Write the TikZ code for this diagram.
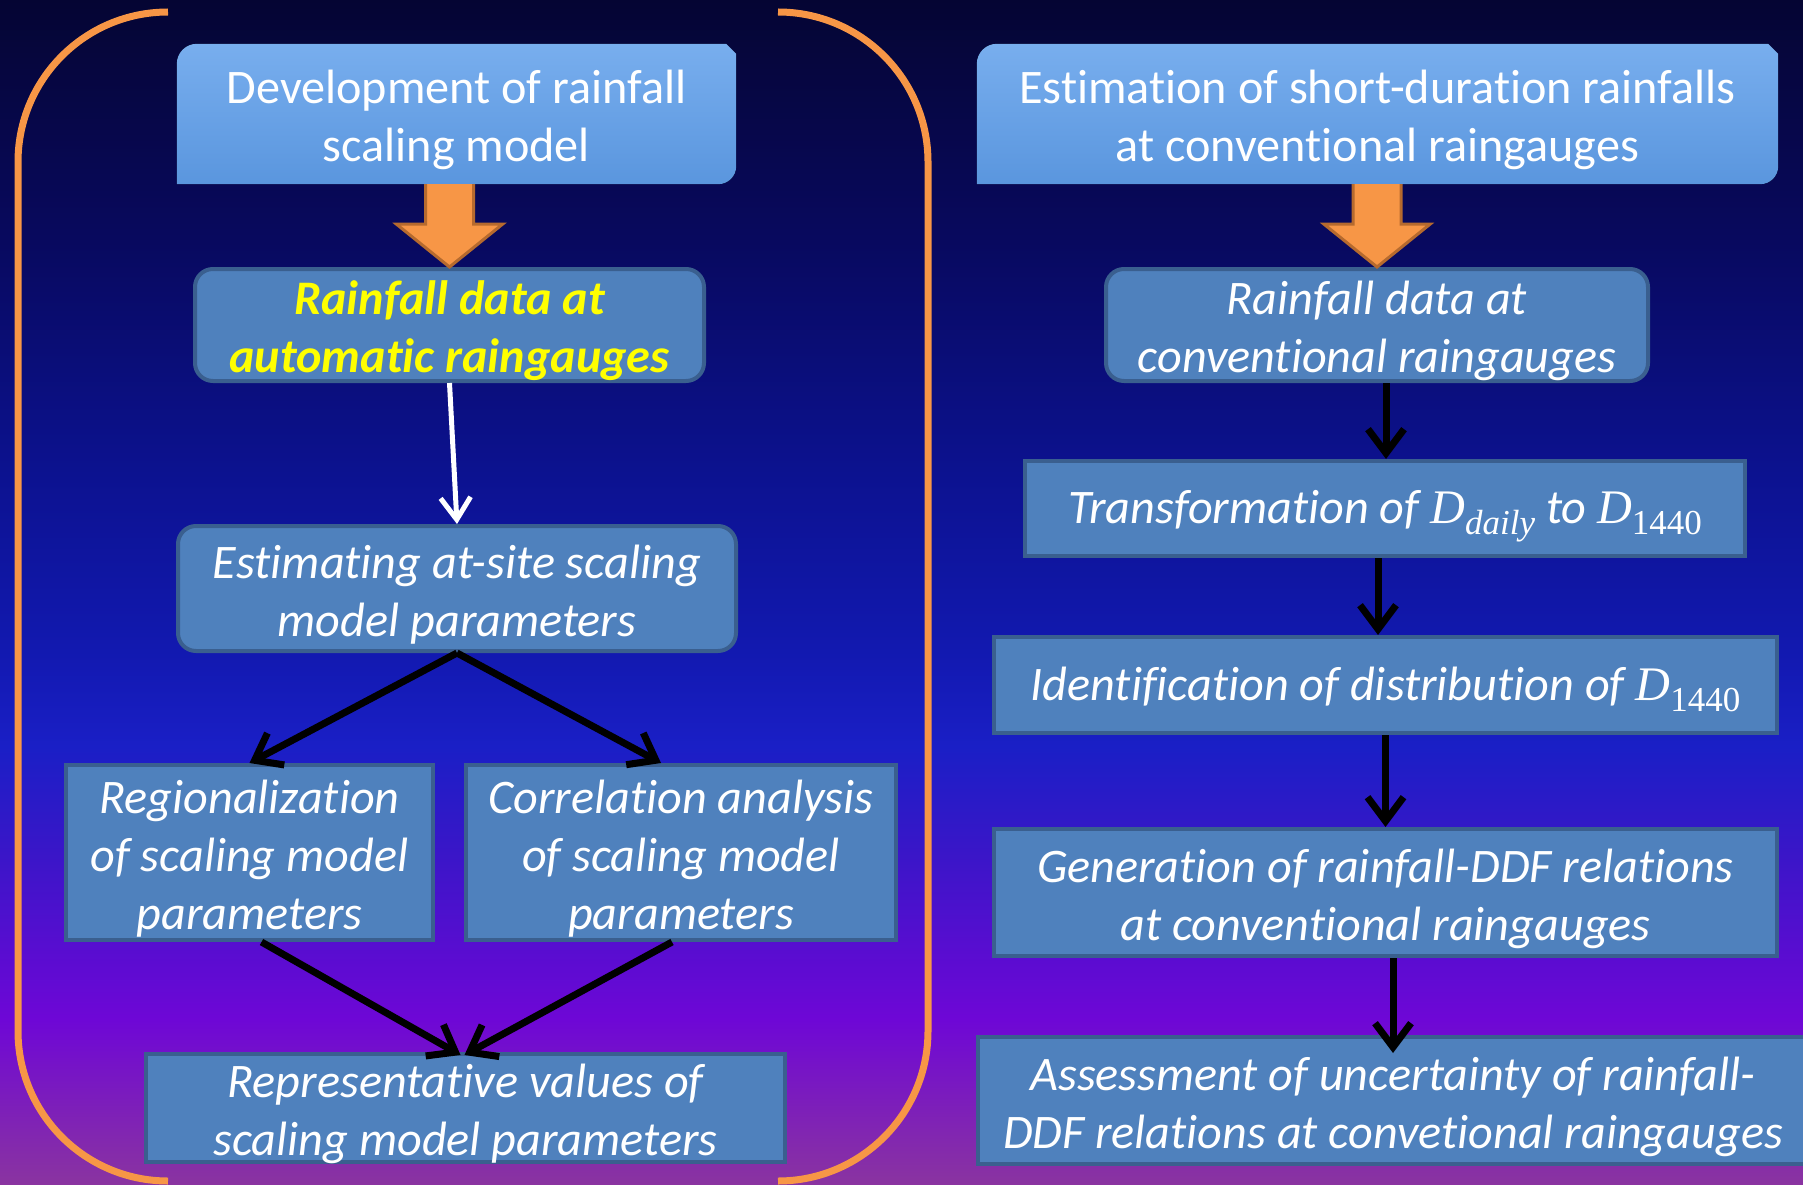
\documentclass[tikz,border=0pt]{standalone}
\usepackage{fontspec}
\setmainfont{Carlito}[Ligatures=NoCommon]
\newfontfamily\mfont{Liberation Serif}
\usetikzlibrary{arrows.meta,calc}
\pgfdeclarelayer{bglayer}
\pgfdeclarelayer{shapelayer}
\pgfsetlayers{bglayer,shapelayer,main}
\definecolor{bgA}{HTML}{050533}
\definecolor{bgB}{HTML}{08095E}
\definecolor{bgC}{HTML}{0C1290}
\definecolor{bgD}{HTML}{1219B0}
\definecolor{bgE}{HTML}{1A1FC6}
\definecolor{bgF}{HTML}{3A16C8}
\definecolor{bgG}{HTML}{6E07D6}
\definecolor{bgH}{HTML}{8A34A0}
\definecolor{boxfill}{HTML}{4F81BD}
\definecolor{boxline}{HTML}{3A5F8F}
\definecolor{topfill}{HTML}{5A96DE}
\definecolor{toplight}{HTML}{78AEEE}
\definecolor{orangeA}{HTML}{F79646}
\definecolor{orangeB}{HTML}{B66A2E}
\definecolor{yellowtext}{HTML}{FFFF00}
\pgfdeclareverticalshading{bgshade}{100bp}{color(0bp)=(bgH); color(25bp)=(bgH); color(32bp)=(bgG); color(39bp)=(bgF); color(43.5bp)=(bgE); color(47.5bp)=(bgD); color(55bp)=(bgC); color(65bp)=(bgB); color(75bp)=(bgA); color(100bp)=(bgA)}
\newcommand{\DD}[1]{{\mfont\itshape D}\raisebox{-11pt}[0pt][0pt]{\fontsize{35}{35}\selectfont\mfont #1}}
\newcommand{\fs}{\rule{0pt}{50pt}}
\newcommand{\ls}{\rule[-13pt]{0pt}{13pt}}
\newcommand{\topshape}[1]{%
  \fill[top color=toplight, bottom color=topfill]
    (#1.south west) -- ([yshift=-20pt]#1.north west)
    arc[start angle=180, end angle=90, radius=20pt]
    -- ([xshift=-10pt]#1.north east) -- ([yshift=-10pt]#1.north east)
    -- ([yshift=18pt]#1.south east)
    arc[start angle=0, end angle=-90, radius=18pt] -- cycle;}
\newcommand{\blockarrow}[2]{%
  \filldraw[fill=orangeA, draw=orangeB, line width=3pt, line join=miter]
    ($(#2.north |- #1.south)+(-24,0)$) -- ($(#2.north |- #1.south)+(-24,40)$)
    -- ($(#2.north |- #1.south)+(-53,40)$) -- (#2.north)
    -- ($(#2.north |- #1.south)+(53,40)$) -- ($(#2.north |- #1.south)+(24,40)$)
    -- ($(#2.north |- #1.south)+(24,0)$);}
\begin{document}
\begin{tikzpicture}[x=1pt, y=-1pt,
  txt/.style={text=white, align=center, font=\fontsize{48.2}{58}\selectfont, inner xsep=0pt, inner ysep=-20pt},
  topbox/.style={txt},
  flowbox/.style={txt, font=\fontsize{48.2}{58}\selectfont\itshape, fill=boxfill, draw=boxline, line width=4pt},
  rbox/.style={flowbox, rounded corners=18pt},
  arr/.style={draw=black, line width=7pt, -{Straight Barb[length=24pt, width=36pt]}},
  warr/.style={draw=white, line width=5pt, -{Straight Barb[length=22pt, width=30pt]}},
  bracket/.style={draw=orangeA, line width=7pt}
]
\useasboundingbox (0,0) rectangle (1803,1185);
\begin{pgfonlayer}{bglayer}
\shade[shading=bgshade] (0,0) rectangle (1803,1185);
\end{pgfonlayer}
\clip (0,0) rectangle (1803,1185);

% orange brackets
\draw[bracket] (168,12) arc[start angle=90, end angle=180, radius=150pt] -- (18,1031) arc[start angle=180, end angle=270, radius=150pt];
\draw[bracket] (778,12) arc[start angle=90, end angle=0, radius=150pt] -- (928,1031) arc[start angle=0, end angle=-90, radius=150pt];

% top boxes
\node[topbox, minimum width=559pt, minimum height=140pt] (t1) at (456.5,114) {\fs Development of rainfall\\scaling model\ls};
\node[topbox, minimum width=801pt, minimum height=140pt] (t2) at (1377.5,114) {\fs Estimation of short-duration rainfalls\\at conventional raingauges\ls};
\begin{pgfonlayer}{shapelayer}
\topshape{t1}
\topshape{t2}
\end{pgfonlayer}

% left column
\node[rbox, minimum width=509pt, minimum height=112pt, text=yellowtext, font=\fontsize{48.2}{58}\selectfont\bfseries\itshape] (r1) at (449.5,325) {\fs Rainfall data at\\automatic raingauges\ls};
\node[rbox, minimum width=558pt, minimum height=125pt] (e1) at (457,588.5) {\fs Estimating at-site scaling\\model parameters\ls};
\node[flowbox, minimum width=367pt, minimum height=175pt] (g1) at (249.5,852.5) {\fs Regionalization\\of scaling model\\parameters\ls};
\node[flowbox, minimum width=430pt, minimum height=175pt] (g2) at (681,852.5) {\fs Correlation analysis\\of scaling model\\parameters\ls};
\node[flowbox, minimum width=639pt, minimum height=108pt] (rep) at (465.5,1108) {\fs Representative values of\\scaling model parameters\ls};

% right column
\node[rbox, minimum width=542pt, minimum height=112pt] (r2) at (1377,325) {\fs Rainfall data at\\conventional raingauges\ls};
\node[flowbox, minimum width=720pt, minimum height=95pt] (tr) at (1385,508.5) {\rule{0pt}{43pt}Transformation of \DD{daily} to \DD{\upshape 1440}\ls};
\node[flowbox, minimum width=783pt, minimum height=96pt] (id) at (1385.5,685) {\rule{0pt}{43pt}Identification of distribution of \DD{\upshape 1440}\ls};
\node[flowbox, minimum width=783pt, minimum height=127pt] (gen) at (1385.5,892.5) {\fs Generation of rainfall-DDF relations\\at conventional raingauges\ls};
\node[flowbox, minimum width=830pt, minimum height=127pt] (as) at (1393,1100.5) {\fs Assessment of uncertainty of rainfall-\\DDF relations at convetional raingauges\ls};

% block arrows
\blockarrow{t1}{r1}
\blockarrow{t2}{r2}

% connectors
\draw[warr] (r1.south) -- (e1.north);
\draw[arr] (e1.south) -- (g1.north);
\draw[arr] (e1.south) -- ([xshift=-20pt]g2.north);
\draw[arr] ([xshift=12pt]g1.south) -- ([xshift=-5pt, yshift=-3pt]rep.north);
\draw[arr] ([xshift=-9pt]g2.south) -- ([xshift=-1pt, yshift=-3pt]rep.north);
\draw[arr] ([xshift=9pt]r2.south) -- ([xshift=1pt]tr.north);
\draw[arr] ([xshift=-7pt]tr.south) -- ([xshift=-7.5pt]id.north);
\draw[arr] (id.south) -- (gen.north);
\draw[arr] ([xshift=7.5pt]gen.south) -- ([xshift=0pt, yshift=-18pt]as.north);
\end{tikzpicture}
\end{document}
